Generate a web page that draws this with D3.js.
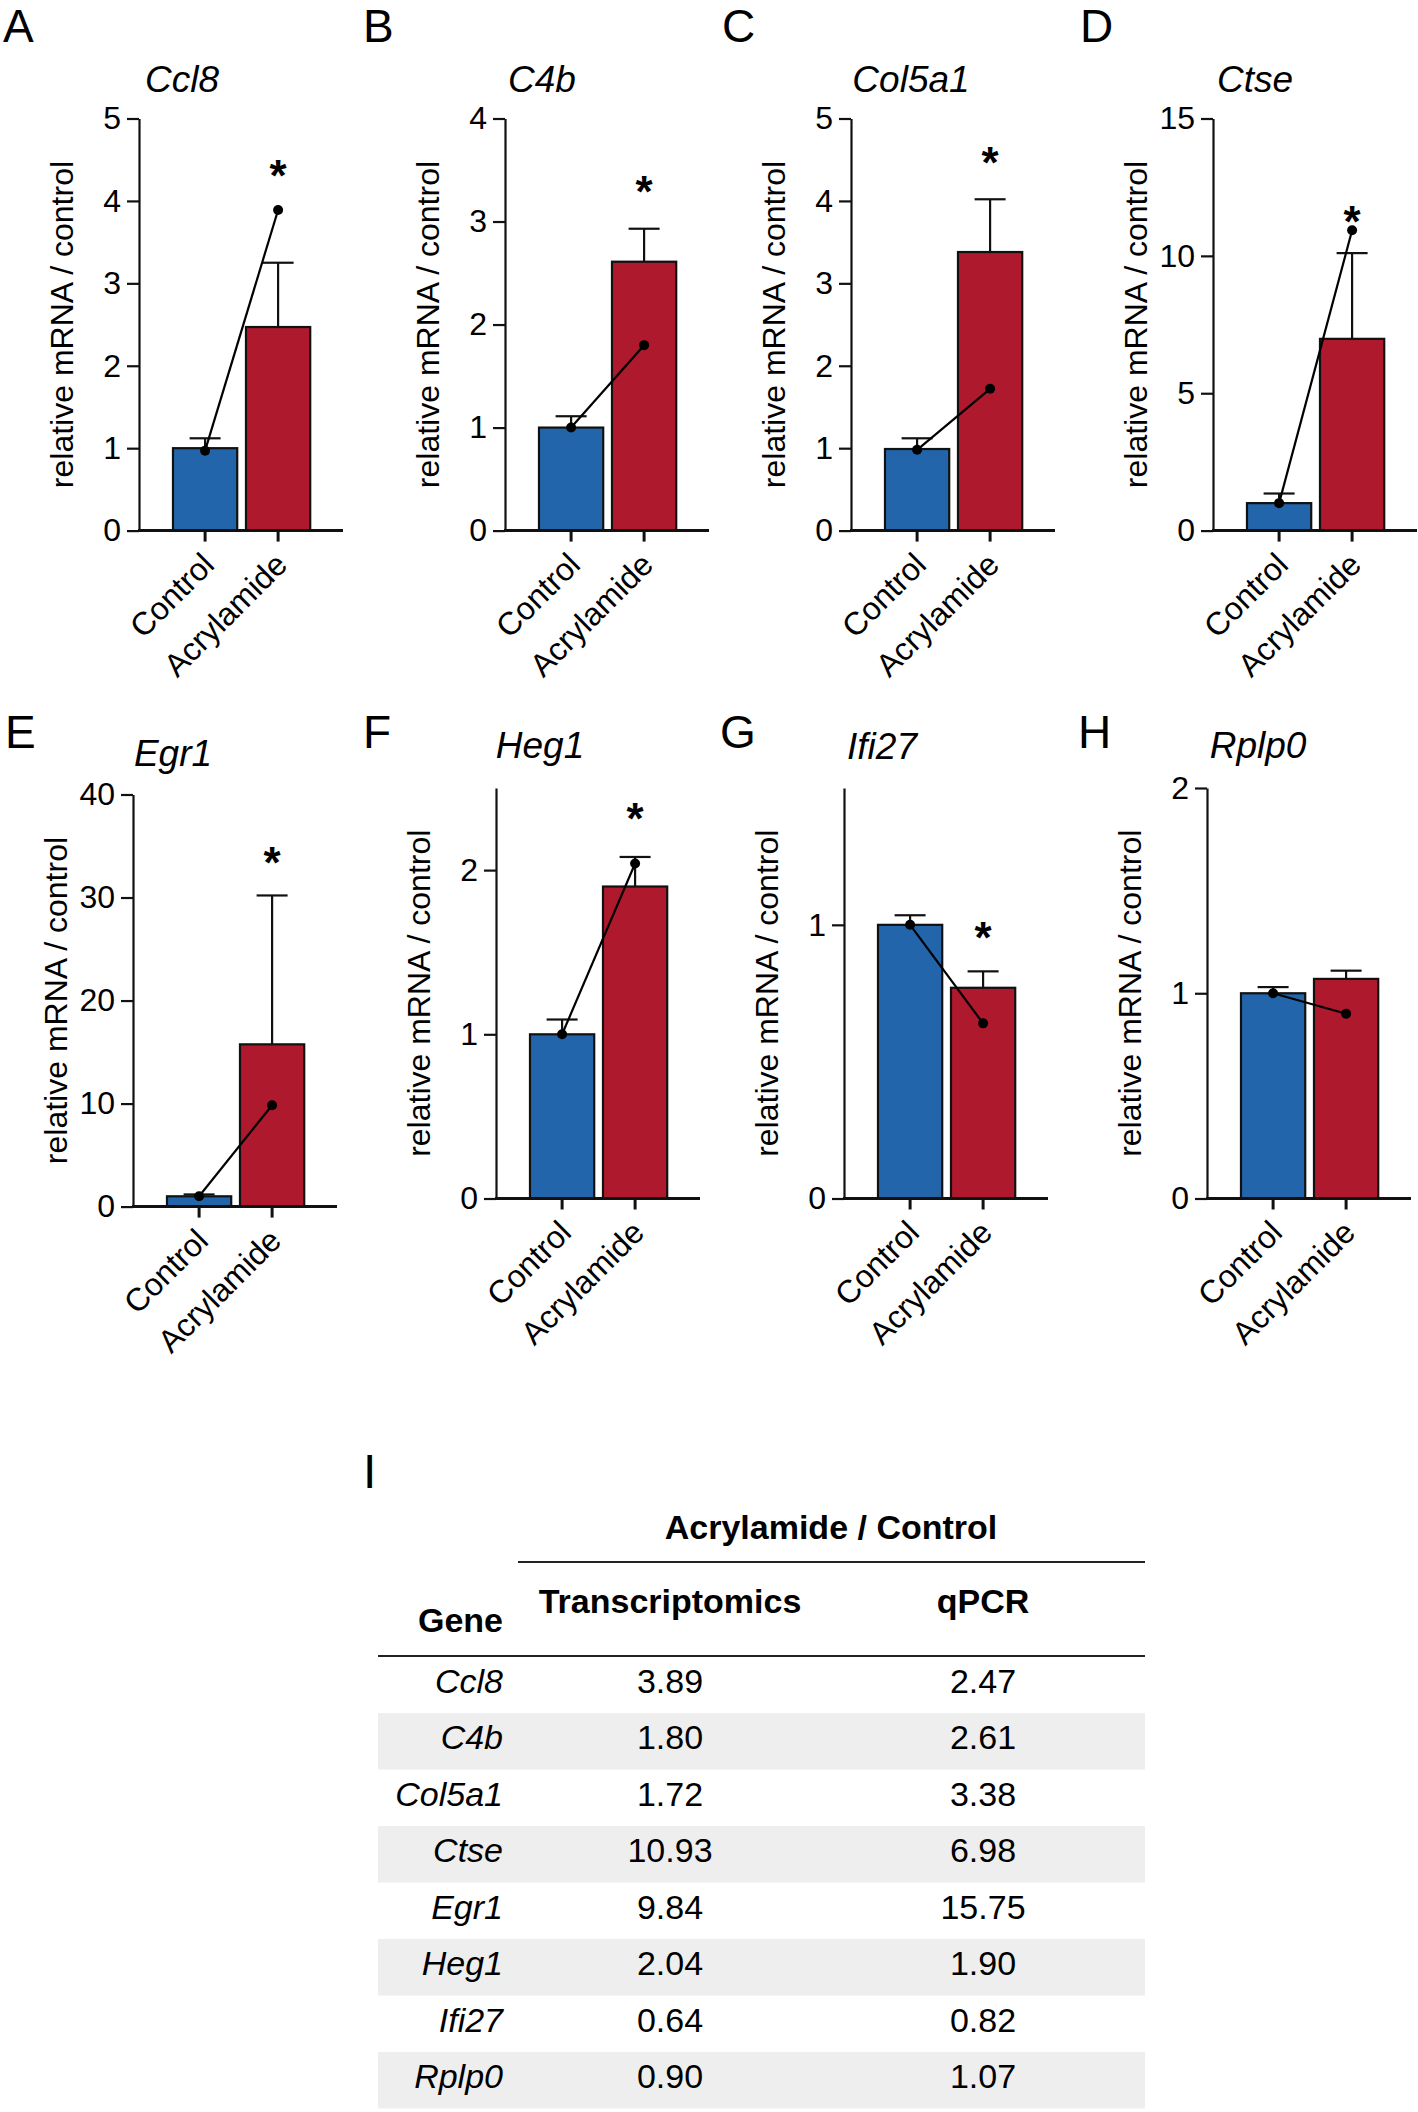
<!DOCTYPE html>
<html>
<head>
<meta charset="utf-8">
<script src="https://cdn.jsdelivr.net/npm/d3@7"></script>
<style>
  html, body { margin: 0; padding: 0; background: #ffffff; }
  svg { display: block; font-family: "Liberation Sans", Arial, Helvetica, sans-serif; }
</style>
</head>
<body>
<svg id="chart" width="1418" height="2112"></svg>
<script>
// ---------------- DATA ----------------
const genes = ["Ccl8", "C4b", "Col5a1", "Ctse", "Egr1", "Heg1", "Ifi27", "Rplp0"];
const panelLetters = ["A", "B", "C", "D", "E", "F", "G", "H"];
const groups = ["Control", "Acrylamide"];

// qPCR bar means (relative mRNA / control) and upper error bar ends
const qpcrControl    = [1.00, 1.00, 0.99, 1.00, 1.00, 1.00, 1.00, 1.00];
const qpcrControlErr = [1.12, 1.11, 1.12, 1.35, 1.18, 1.09, 1.035, 1.03];
const qpcrAcryl      = [2.47, 2.61, 3.38, 6.98, 15.75, 1.90, 0.77, 1.07];
const qpcrAcrylErr   = [3.25, 2.93, 4.02, 10.1, 30.2, 2.08, 0.83, 1.11];

// transcriptomics points
const transControl = [0.97, 1.00, 0.98, 1.00, 1.00, 1.00, 1.00, 1.00];
const transAcryl   = [3.89, 1.80, 1.72, 10.93, 9.84, 2.04, 0.64, 0.90];

// axes
const yMax   = [5, 4, 5, 15, 40, 2.5, 1.5, 2];
const yTicks = [[0,1,2,3,4,5],[0,1,2,3,4],[0,1,2,3,4,5],[0,5,10,15],[0,10,20,30,40],[0,1,2],[0,1],[0,1,2]];

// significance marks (position in axis units, null = none)
const starAt = [4.42, 3.38, 4.58, 11.6, 34.3, 2.37, 0.99, null];

// table
const tableTrans = [3.89, 1.80, 1.72, 10.93, 9.84, 2.04, 0.64, 0.90];
const tableQpcr  = [2.47, 2.61, 3.38, 6.98, 15.75, 1.90, 0.82, 1.07];

// ---------------- LAYOUT ----------------
const blue = "#2265AA", red = "#AE192E", ink = "#111111";
const axisX  = [139, 505, 851, 1213, 133, 496, 844, 1207];
const titleX = [182, 542, 911, 1255, 173, 540, 882, 1258];
const titleY = [92, 92, 92, 92, 766, 758, 759, 758];
const letterX = [3, 363, 722, 1080, 5, 363, 720, 1078];
const letterY = [42, 42, 42, 42, 748, 748, 748, 748];
const plotTop  = [118.5, 118.5, 118.5, 118.5, 794.5, 788, 788, 788];
const plotZero = [530.6, 530.6, 530.6, 530.6, 1206.6, 1198.5, 1198.5, 1198.5];

const svg = d3.select("#chart");
svg.append("rect").attr("width", 1418).attr("height", 2112).attr("fill", "#fff");

genes.forEach((gene, i) => {
  const ax = axisX[i];
  const g = svg.append("g");
  const y = d3.scaleLinear().domain([0, yMax[i]]).range([plotZero[i], plotTop[i]]);
  const x = d3.scaleBand().domain(groups).range([ax + 29.6, ax + 175.6])
              .paddingInner(0.12).paddingOuter(0.06);
  const bw = x.bandwidth();
  const cx = c => x(c) + bw / 2;
  const zero = y(0);

  // panel letter
  g.append("text").attr("x", letterX[i]).attr("y", letterY[i])
    .attr("font-size", 46).attr("fill", "#000").text(panelLetters[i]);
  // title
  g.append("text").attr("x", titleX[i]).attr("y", titleY[i])
    .attr("text-anchor", "middle").attr("font-size", 37).attr("font-style", "italic")
    .attr("fill", "#000").text(gene);

  // y axis
  const yAxis = d3.axisLeft(y).tickValues(yTicks[i]).tickSize(12).tickSizeOuter(0)
    .tickPadding(6).tickFormat(d3.format("d"));
  const yg = g.append("g").attr("transform", `translate(${ax},0)`).call(yAxis);
  yg.select(".domain").attr("stroke", ink).attr("stroke-width", 2.2);
  yg.selectAll(".tick line").attr("stroke", ink).attr("stroke-width", 2.2);
  yg.selectAll(".tick text").attr("font-size", 32).attr("fill", "#000")
    .attr("font-family", "Liberation Sans, Arial, sans-serif");

  // y label
  g.append("text")
    .attr("transform", `translate(${ax - 66},${(plotTop[i] + plotZero[i]) / 2}) rotate(-90)`)
    .attr("text-anchor", "middle").attr("font-size", 32).attr("fill", "#000")
    .text("relative mRNA / control");

  // bars
  const means = [qpcrControl[i], qpcrAcryl[i]];
  const errs = [qpcrControlErr[i], qpcrAcrylErr[i]];
  const colors = [blue, red];
  groups.forEach((c, k) => {
    g.append("line").attr("x1", cx(c)).attr("x2", cx(c))
      .attr("y1", y(means[k])).attr("y2", y(errs[k]))
      .attr("stroke", ink).attr("stroke-width", 2.2);
    g.append("line").attr("x1", cx(c) - 15.5).attr("x2", cx(c) + 15.5)
      .attr("y1", y(errs[k])).attr("y2", y(errs[k]))
      .attr("stroke", ink).attr("stroke-width", 2.2);
    g.append("rect").attr("x", x(c)).attr("y", y(means[k]))
      .attr("width", bw).attr("height", zero - y(means[k]))
      .attr("fill", colors[k]).attr("stroke", ink).attr("stroke-width", 2.2);
  });

  // x axis
  g.append("line").attr("x1", ax - 1).attr("x2", ax + 204)
    .attr("y1", zero).attr("y2", zero).attr("stroke", ink).attr("stroke-width", 3);
  const xAxis = d3.axisBottom(x).tickSize(11).tickSizeOuter(0);
  const xg = g.append("g").attr("transform", `translate(0,${zero})`).call(xAxis);
  xg.select(".domain").remove();
  xg.selectAll(".tick line").attr("stroke", ink).attr("stroke-width", 3);
  xg.selectAll(".tick text")
    .attr("x", null).attr("y", null).attr("dy", null)
    .attr("transform", "translate(11,36) rotate(-45)")
    .attr("text-anchor", "end").attr("font-size", 32).attr("fill", "#000")
    .attr("font-family", "Liberation Sans, Arial, sans-serif");

  // transcriptomics line + points
  const pts = [[cx(groups[0]), y(transControl[i])], [cx(groups[1]), y(transAcryl[i])]];
  g.append("path").attr("d", d3.line()(pts)).attr("fill", "none")
    .attr("stroke", "#000").attr("stroke-width", 2.2);
  g.selectAll("circle.pt").data(pts).enter().append("circle")
    .attr("cx", d => d[0]).attr("cy", d => d[1]).attr("r", 5).attr("fill", "#000");

  // star
  if (starAt[i] !== null) {
    g.append("text").attr("x", cx(groups[1])).attr("y", y(starAt[i]) + 25)
      .attr("text-anchor", "middle").attr("font-size", 44).attr("font-weight", "bold")
      .attr("fill", "#000").text("*");
  }
});

// ---------------- TABLE ----------------
const t = svg.append("g");
t.append("text").attr("x", 363).attr("y", 1488).attr("font-size", 48).attr("fill", "#000").text("I");

const tblLeft = 378, tblRight = 1145, rowTop0 = 1656.5, rowH = 56.5;
const colGene = 503, colTrans = 670, colQpcr = 983;
const fmt = d3.format(".2f");

genes.forEach((gene, r) => {
  const top = rowTop0 + r * rowH;
  if (r % 2 === 1) {
    t.append("rect").attr("x", tblLeft).attr("y", top).attr("width", tblRight - tblLeft)
      .attr("height", rowH).attr("fill", "#eeeeee");
  }
  const base = top + rowH / 2 + 8;
  t.append("text").attr("x", colGene).attr("y", base).attr("text-anchor", "end")
    .attr("font-size", 34).attr("font-style", "italic").attr("fill", "#000").text(gene);
  t.append("text").attr("x", colTrans).attr("y", base).attr("text-anchor", "middle")
    .attr("font-size", 34).attr("fill", "#000").text(fmt(tableTrans[r]));
  t.append("text").attr("x", colQpcr).attr("y", base).attr("text-anchor", "middle")
    .attr("font-size", 34).attr("fill", "#000").text(fmt(tableQpcr[r]));
});

t.append("text").attr("x", 831).attr("y", 1539).attr("text-anchor", "middle")
  .attr("font-size", 34).attr("font-weight", "bold").attr("fill", "#000").text("Acrylamide / Control");
t.append("line").attr("x1", 518).attr("x2", tblRight).attr("y1", 1562).attr("y2", 1562)
  .attr("stroke", "#222").attr("stroke-width", 2);
t.append("text").attr("x", colTrans).attr("y", 1613).attr("text-anchor", "middle")
  .attr("font-size", 34).attr("font-weight", "bold").attr("fill", "#000").text("Transcriptomics");
t.append("text").attr("x", colQpcr).attr("y", 1613).attr("text-anchor", "middle")
  .attr("font-size", 34).attr("font-weight", "bold").attr("fill", "#000").text("qPCR");
t.append("text").attr("x", colGene).attr("y", 1632).attr("text-anchor", "end")
  .attr("font-size", 34).attr("font-weight", "bold").attr("fill", "#000").text("Gene");
t.append("line").attr("x1", tblLeft).attr("x2", tblRight).attr("y1", 1656).attr("y2", 1656)
  .attr("stroke", "#222").attr("stroke-width", 2);
</script>
</body>
</html>
